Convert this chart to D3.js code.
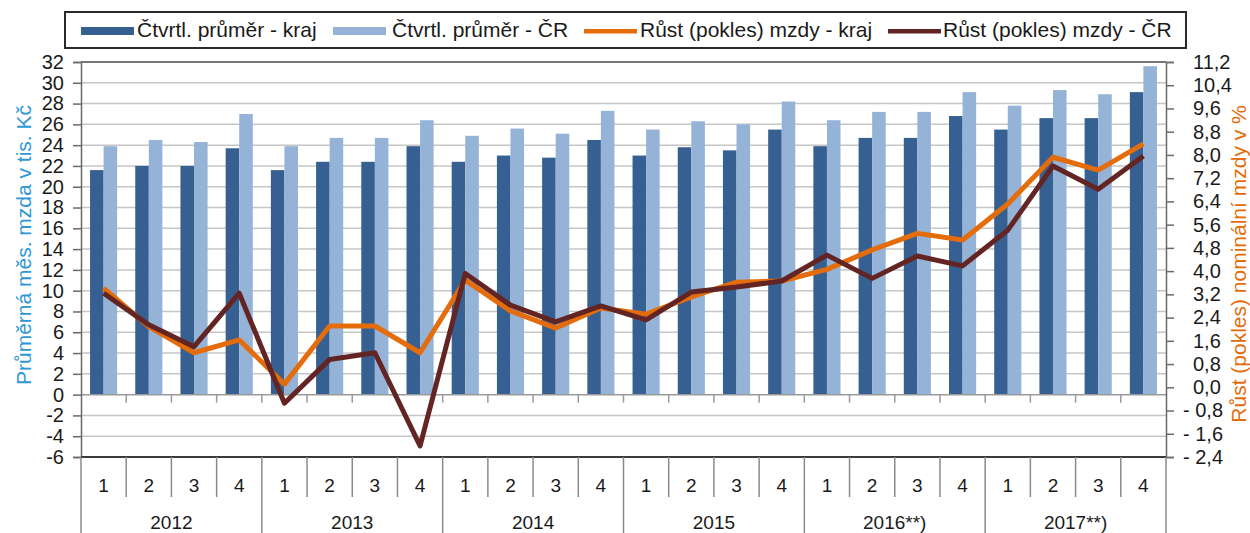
<!DOCTYPE html>
<html lang="cs">
<head>
<meta charset="UTF-8">
<title>Mzdy - kraj a ČR</title>
<script src="https://d3js.org/d3.v7.min.js"></script>
<style>
  html, body { margin: 0; padding: 0; background: #fff; }
  svg { display: block; font-family: "Liberation Sans", Arial, sans-serif; }
</style>
</head>
<body>
<div id="chart"></div>
<script>
// Data
const years = ["2012", "2013", "2014", "2015", "2016**)", "2017**)"];
const quarters = ["1", "2", "3", "4"];
const avgKraj = [21.6, 22.0, 22.0, 23.7, 21.6, 22.4, 22.4, 23.9, 22.4, 23.0, 22.8, 24.5,
                 23.0, 23.8, 23.5, 25.5, 23.9, 24.7, 24.7, 26.8, 25.5, 26.6, 26.6, 29.1];
const avgCR = [23.9, 24.5, 24.3, 27.0, 23.9, 24.7, 24.7, 26.4, 24.9, 25.6, 25.1, 27.3,
               25.5, 26.3, 26.0, 28.2, 26.4, 27.2, 27.2, 29.1, 27.8, 29.3, 28.9, 31.6];
const growthKraj = [3.41, 2.09, 1.19, 1.63, 0.11, 2.11, 2.11, 1.19, 3.69, 2.63, 2.04, 2.73,
                    2.52, 3.11, 3.62, 3.66, 4.06, 4.73, 5.30, 5.07, 6.31, 7.92, 7.48, 8.38];
const growthCR = [3.24, 2.15, 1.40, 3.24, -0.55, 0.96, 1.19, -2.02, 3.92, 2.83, 2.25, 2.80,
                  2.32, 3.28, 3.45, 3.66, 4.55, 3.75, 4.52, 4.18, 5.41, 7.62, 6.82, 7.96];
const leftTicks = d3.range(-6, 33, 2);
const rightTicks = d3.range(-24, 113, 8).map(d => d / 10);
const legendLabels = ["Čtvrtl. průměr - kraj", "Čtvrtl. průměr - ČR",
                      "Růst (pokles) mzdy - kraj", "Růst (pokles) mzdy - ČR"];

const colors = { kraj: "#376092", cr: "#95b3d7", lineKraj: "#e46c0a", lineCR: "#632523" };
const textColor = "#1a1a1a";

const W = 1250, H = 533;
const plot = { left: 81, right: 1166, top: 62, bottom: 457 };

const svg = d3.select("#chart").append("svg")
    .attr("width", W).attr("height", H);

const cats = d3.range(years.length * quarters.length);

const x = d3.scaleBand()
    .domain(cats)
    .range([plot.left, plot.right])
    .padding(0);

const yL = d3.scaleLinear().domain([-6, 32]).range([plot.bottom, plot.top]);
const yR = d3.scaleLinear().domain([-2.4, 11.2]).range([plot.bottom, plot.top]);

// Gridlines
svg.append("g")
    .selectAll("line")
    .data(leftTicks.filter(d => d > -6 && d < 32 && d !== 0))
    .join("line")
    .attr("x1", plot.left).attr("x2", plot.right)
    .attr("y1", d => yL(d)).attr("y2", d => yL(d))
    .attr("stroke", "#c6c6c6").attr("stroke-width", 1.5);

// Bars
const barW = x.bandwidth() * 0.3;
const bars = svg.append("g");
bars.selectAll("rect.kraj")
    .data(avgKraj)
    .join("rect")
    .attr("class", "kraj")
    .attr("x", (d, i) => x(i) + x.bandwidth() / 2 - barW)
    .attr("y", d => yL(d))
    .attr("width", barW)
    .attr("height", d => yL(0) - yL(d))
    .attr("fill", colors.kraj);
bars.selectAll("rect.cr")
    .data(avgCR)
    .join("rect")
    .attr("class", "cr")
    .attr("x", (d, i) => x(i) + x.bandwidth() / 2)
    .attr("y", d => yL(d))
    .attr("width", barW)
    .attr("height", d => yL(0) - yL(d))
    .attr("fill", colors.cr);

// Zero line with small ticks
const zero = svg.append("g");
zero.append("line")
    .attr("x1", plot.left).attr("x2", plot.right)
    .attr("y1", yL(0)).attr("y2", yL(0))
    .attr("stroke", "#9a9a9a").attr("stroke-width", 1.5);
zero.selectAll("line.tk")
    .data(cats.slice(1))
    .join("line")
    .attr("class", "tk")
    .attr("x1", d => x(d)).attr("x2", d => x(d))
    .attr("y1", yL(0)).attr("y2", yL(0) + 8)
    .attr("stroke", "#9a9a9a").attr("stroke-width", 1.5);

// Lines
const line = (data) => d3.line()
    .x((d, i) => x(i) + x.bandwidth() / 2)
    .y(d => yR(d))(data);

svg.append("path")
    .attr("d", line(growthKraj))
    .attr("fill", "none")
    .attr("stroke", colors.lineKraj)
    .attr("stroke-width", 5)
    .attr("stroke-linejoin", "round");
svg.append("path")
    .attr("d", line(growthCR))
    .attr("fill", "none")
    .attr("stroke", colors.lineCR)
    .attr("stroke-width", 5)
    .attr("stroke-linejoin", "round");

// Top border
svg.append("line")
    .attr("x1", plot.left).attr("x2", plot.right)
    .attr("y1", plot.top).attr("y2", plot.top)
    .attr("stroke", "#4a4a4a").attr("stroke-width", 1.5);

// Left axis
svg.append("g")
    .attr("transform", `translate(${plot.left},0)`)
    .call(d3.axisLeft(yL).tickValues(leftTicks).tickSize(8).tickPadding(9).tickFormat(d3.format("d")))
    .call(g => g.select(".domain").attr("stroke", "#6a6a6a").attr("stroke-width", 1.5))
    .call(g => g.selectAll(".tick line").attr("stroke", "#6a6a6a").attr("stroke-width", 1.5))
    .call(g => g.selectAll(".tick text")
        .attr("fill", textColor)
        .attr("font-size", "20px")
        .attr("font-family", "Liberation Sans, Arial, sans-serif")
        .text(d => d < 0 ? "-" + Math.abs(d) : d));

// Right axis
const fmtR = d => {
    const s = Math.abs(d).toFixed(1).replace(".", ",");
    return d < 0 ? "- " + s : s;
};
svg.append("g")
    .attr("transform", `translate(${plot.right},0)`)
    .call(d3.axisRight(yR).tickValues(rightTicks).tickSize(8).tickPadding(18).tickFormat(fmtR))
    .call(g => g.select(".domain").attr("stroke", "#6a6a6a").attr("stroke-width", 1.5))
    .call(g => g.selectAll(".tick line").attr("stroke", "#6a6a6a").attr("stroke-width", 1.5))
    .call(g => g.selectAll(".tick text")
        .attr("fill", textColor)
        .attr("font-size", "20px")
        .attr("font-family", "Liberation Sans, Arial, sans-serif")
        .attr("x", d => d < 0 ? 17 : 27));

// Category axis (two levels)
const cat = svg.append("g");
cat.append("line")
    .attr("x1", plot.left).attr("x2", plot.right)
    .attr("y1", plot.bottom).attr("y2", plot.bottom)
    .attr("stroke", "#3a3a3a").attr("stroke-width", 2);
cat.selectAll("line.div")
    .data(d3.range(cats.length + 1))
    .join("line")
    .attr("class", "div")
    .attr("x1", d => d < cats.length ? x(d) : plot.right)
    .attr("x2", d => d < cats.length ? x(d) : plot.right)
    .attr("y1", plot.bottom)
    .attr("y2", d => d % 4 === 0 ? H : 497)
    .attr("stroke", "#8a8a8a").attr("stroke-width", 1.5);
cat.selectAll("text.q")
    .data(cats)
    .join("text")
    .attr("class", "q")
    .attr("x", d => x(d) + x.bandwidth() / 2)
    .attr("y", 492)
    .attr("text-anchor", "middle")
    .attr("font-size", "19px")
    .attr("fill", textColor)
    .text(d => quarters[d % 4]);
cat.selectAll("text.y")
    .data(years)
    .join("text")
    .attr("class", "y")
    .attr("x", (d, i) => (x(i * 4) + (i * 4 + 4 < cats.length ? x(i * 4 + 4) : plot.right)) / 2)
    .attr("y", 529)
    .attr("text-anchor", "middle")
    .attr("font-size", "19px")
    .attr("fill", textColor)
    .text(d => d);

// Axis titles
svg.append("text")
    .attr("transform", "translate(31,245) rotate(-90)")
    .attr("text-anchor", "middle")
    .attr("font-size", "21px")
    .attr("fill", "#2f97d6")
    .text("Průměrná měs. mzda v tis. Kč");
svg.append("text")
    .attr("transform", "translate(1246,264) rotate(-90)")
    .attr("text-anchor", "middle")
    .attr("font-size", "21px")
    .attr("fill", "#e46c0a")
    .text("Růst (pokles) nominální mzdy v %");

// Legend
const legend = svg.append("g");
legend.append("rect")
    .attr("x", 65).attr("y", 12).attr("width", 1121).attr("height", 36)
    .attr("fill", "#fff").attr("stroke", "#2a2a2a").attr("stroke-width", 2);
const legItems = [
    { label: legendLabels[0], color: colors.kraj, type: "bar", sx: 81, tx: 137 },
    { label: legendLabels[1], color: colors.cr, type: "bar", sx: 333, tx: 392 },
    { label: legendLabels[2], color: colors.lineKraj, type: "line", sx: 584, tx: 640 },
    { label: legendLabels[3], color: colors.lineCR, type: "line", sx: 888, tx: 943 }
];
const li = legend.selectAll("g.item").data(legItems).join("g").attr("class", "item");
li.append("rect")
    .attr("x", d => d.sx)
    .attr("y", d => d.type === "bar" ? 27 : 29)
    .attr("width", 53)
    .attr("height", d => d.type === "bar" ? 8 : 4.5)
    .attr("fill", d => d.color);
li.append("text")
    .attr("x", d => d.tx)
    .attr("y", 37)
    .attr("font-size", "21px")
    .attr("fill", textColor)
    .text(d => d.label);
</script>
</body>
</html>
